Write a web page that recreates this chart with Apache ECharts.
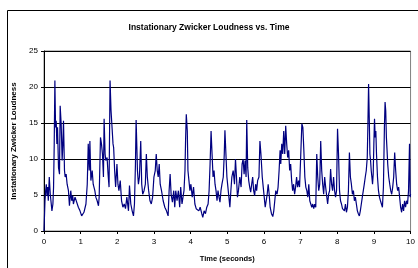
<!DOCTYPE html>
<html>
<head>
<meta charset="utf-8">
<script src="https://cdn.jsdelivr.net/npm/echarts@6/dist/echarts.min.js"></script>
<style>
html, body { margin: 0; padding: 0; background: #fff; }
#chart { width: 418px; height: 268px; }
</style>
</head>
<body>
<div id="chart"></div>
<script>
// time (s) and loudness
var times = [
	0, 0.027, 0.045, 0.063, 0.081, 0.099, 0.117, 0.144, 0.171, 0.198, 0.216, 0.243, 0.261, 0.279, 0.297,
	0.315, 0.333, 0.351, 0.369, 0.396, 0.423, 0.441, 0.468, 0.495, 0.514, 0.532, 0.559, 0.577, 0.604, 0.631,
	0.667, 0.694, 0.730, 0.757, 0.784, 0.802, 0.847, 0.892, 0.937, 0.982, 1.027, 1.054, 1.090, 1.144, 1.180,
	1.207, 1.234, 1.252, 1.279, 1.315, 1.342, 1.387, 1.414, 1.450, 1.486, 1.505, 1.541, 1.568, 1.595, 1.622,
	1.640, 1.667, 1.685, 1.721, 1.748, 1.775, 1.802, 1.829, 1.856, 1.883,
	1.900, 1.927, 1.954, 1.990, 2.017, 2.044, 2.080, 2.116, 2.152, 2.188, 2.224, 2.260, 2.305, 2.332, 2.368,
	2.405, 2.441, 2.468, 2.495, 2.513, 2.531, 2.549, 2.576, 2.603, 2.639, 2.666, 2.693, 2.729, 2.765, 2.792,
	2.819, 2.855, 2.891, 2.927, 2.963, 2.999, 3.035, 3.062, 3.089, 3.116, 3.143, 3.170, 3.206, 3.251, 3.296,
	3.341, 3.386, 3.413, 3.441, 3.468, 3.504, 3.540, 3.567, 3.594, 3.630, 3.666, 3.702, 3.729, 3.765, 3.792,
	3.819, 3.846, 3.864, 3.882, 3.909,
	3.927, 3.954, 3.981, 4.008, 4.044, 4.080, 4.116, 4.152, 4.188, 4.224, 4.260, 4.305, 4.332, 4.368, 4.405,
	4.441, 4.477, 4.504, 4.531, 4.558, 4.585, 4.612, 4.639, 4.666, 4.693, 4.720, 4.747, 4.774, 4.801, 4.828,
	4.855, 4.891, 4.918, 4.936, 4.963, 4.990, 5.017, 5.044, 5.071, 5.098, 5.125, 5.161, 5.197, 5.224, 5.251,
	5.278, 5.305, 5.341, 5.377, 5.404, 5.432, 5.459, 5.486, 5.513, 5.531, 5.558, 5.585, 5.612, 5.639, 5.666,
	5.693, 5.720, 5.747, 5.774, 5.801, 5.828, 5.864, 5.891, 5.918,
	5.954, 5.981, 6.008, 6.035, 6.062, 6.089, 6.116, 6.143, 6.170, 6.206, 6.242, 6.269, 6.296, 6.323, 6.359,
	6.386, 6.414, 6.441, 6.459, 6.486, 6.513, 6.540, 6.567, 6.594, 6.621, 6.648, 6.675, 6.702, 6.729, 6.756,
	6.783, 6.810, 6.837, 6.864, 6.891, 6.918, 6.945, 6.972, 6.999, 7.035, 7.062, 7.089, 7.116, 7.143, 7.170,
	7.197, 7.224, 7.251, 7.278, 7.305, 7.332, 7.359, 7.386, 7.414, 7.441, 7.468, 7.495, 7.522, 7.549, 7.576,
	7.603, 7.630, 7.657, 7.684, 7.711, 7.738, 7.765, 7.792, 7.819, 7.846, 7.873, 7.900,
	7.927, 7.954, 7.981, 8.008, 8.035, 8.062, 8.089, 8.116, 8.143, 8.170, 8.197, 8.224, 8.251, 8.278, 8.305,
	8.332, 8.359, 8.386, 8.414, 8.441, 8.468, 8.495, 8.522, 8.549, 8.576, 8.603, 8.630, 8.657, 8.684, 8.711,
	8.738, 8.765, 8.792, 8.819, 8.837, 8.855, 8.873, 8.891, 8.909, 8.927, 8.945, 8.963, 8.981, 8.999, 9.017,
	9.035, 9.053, 9.071, 9.098, 9.125, 9.152, 9.179, 9.206, 9.233, 9.260, 9.287, 9.305, 9.323, 9.341, 9.359,
	9.377, 9.405, 9.432, 9.459, 9.486, 9.513, 9.540, 9.567, 9.594, 9.621, 9.648, 9.675, 9.702, 9.729, 9.756,
	9.783, 9.810, 9.837, 9.864, 9.891, 9.918, 9.945, 9.972, 9.990, 10.0
];
var loudness = [
	0, 4.2, 5.6, 6.5, 4.9, 6.1, 4.2, 7.5, 5.1, 3.75, 2.8, 3.75, 6.1, 12.1, 20.9,
	14.4, 15.3, 12.1, 14.4, 8.8, 7.9, 17.4, 14.9, 9.8, 12.1, 15.3, 8.4, 7.5, 7.9, 6.5,
	5.6, 3.5, 5.6, 4.2, 4.9, 3.75, 4.7, 4.9, 3.3, 2.8, 2.1, 1.9, 2.6, 3.75, 6.5,
	12.1, 8.4, 12.5, 7.0, 8.4, 6.5, 5.6, 4.7, 4.2, 3.5, 4.7, 13.0, 12.1, 10.7, 7.5,
	15.6, 10.7, 9.8, 10.2, 7.9, 6.1, 20.9, 16.7, 14.4, 12.1,
	11.6, 8.4, 6.1, 9.3, 6.5, 5.6, 7.0, 4.2, 3.3, 3.75, 3.1, 4.7, 2.8, 6.3, 3.75,
	2.8, 2.1, 3.75, 9.3, 15.4, 12.1, 8.4, 6.5, 7.5, 12.5, 6.5, 5.1, 5.6, 6.5, 10.7,
	7.5, 5.6, 4.2, 3.75, 4.7, 7.5, 8.4, 10.7, 8.4, 7.5, 9.3, 6.5, 5.6, 4.2, 3.3,
	2.8, 2.1, 5.6, 7.9, 5.1, 4.0, 5.6, 3.3, 5.6, 4.2, 5.6, 3.3, 6.1, 3.75, 4.7,
	5.6, 8.4, 13.0, 16.2, 13.9,
	8.4, 7.0, 5.6, 6.5, 4.7, 6.1, 3.75, 3.1, 3.3, 2.8, 3.3, 2.4, 1.9, 2.8, 2.4,
	3.3, 3.75, 5.6, 9.3, 13.9, 10.7, 7.5, 8.4, 6.5, 5.6, 4.2, 5.6, 4.7, 4.0, 5.6,
	6.5, 7.5, 10.7, 14.0, 10.7, 7.5, 6.1, 4.7, 3.3, 5.6, 7.5, 8.4, 6.5, 10.0, 7.5,
	4.7, 5.6, 7.5, 6.1, 9.3, 10.0, 7.9, 9.8, 7.5, 15.4, 8.8, 7.0, 6.1, 5.4, 6.5,
	7.5, 5.6, 4.9, 6.5, 5.6, 7.0, 7.5, 12.5, 10.7,
	7.5, 6.1, 4.7, 3.3, 3.1, 5.1, 6.5, 5.1, 3.3, 2.4, 2.0, 2.8, 4.2, 5.6, 5.1,
	6.1, 8.4, 11.2, 9.3, 12.1, 10.7, 13.9, 10.7, 14.6, 12.1, 10.2, 11.2, 8.4, 9.3, 7.0,
	5.6, 6.5, 5.1, 6.1, 7.5, 6.1, 7.0, 6.1, 9.8, 14.9, 14.4, 11.2, 7.5, 6.1, 5.6,
	4.7, 6.5, 4.2, 3.75, 3.3, 3.75, 3.1, 3.75, 3.3, 10.7, 7.5, 5.6, 6.5, 12.5, 8.4,
	6.5, 5.1, 7.5, 6.1, 4.9, 3.75, 5.1, 5.6, 8.6, 6.5, 5.6, 7.5,
	5.6, 4.7, 5.6, 14.2, 10.7, 5.6, 4.2, 3.75, 3.1, 3.3, 2.8, 3.75, 2.6, 3.3, 5.6,
	10.9, 7.5, 6.5, 5.1, 5.6, 4.2, 4.7, 3.75, 2.8, 2.4, 2.1, 2.8, 3.75, 4.7, 5.6,
	6.5, 7.5, 8.4, 10.2, 14.9, 20.4, 15.8, 10.7, 9.8, 8.4, 7.5, 6.5, 7.9, 12.1, 15.6,
	13.0, 13.9, 10.7, 7.5, 5.6, 4.7, 4.2, 3.75, 3.3, 6.1, 14.4, 17.9, 16.7, 13.0, 11.2,
	9.3, 7.5, 6.5, 5.6, 5.1, 6.1, 7.5, 10.9, 8.4, 6.5, 5.6, 6.1, 4.7, 3.3, 2.6,
	3.75, 2.8, 4.2, 3.3, 4.2, 3.75, 5.6, 12.1, 4.7, 5.1
];
var yTicks = [0, 5, 10, 15, 20, 25];
var xTicks = [0, 1, 2, 3, 4, 5, 6, 7, 8, 9, 10];

var points = [];
for (var i = 0; i < times.length; i++) {
	points.push([times[i], loudness[i]]);
}

var chart = echarts.init(document.getElementById('chart'), null, { renderer: 'canvas' });
var font = 'Liberation Sans, Arial, sans-serif';
var option = {
	animation: false,
	backgroundColor: '#fff',
	title: {
		text: 'Instationary Zwicker Loudness vs. Time',
		left: 'center',
		top: 18,
		textStyle: { fontFamily: font, fontSize: 8.5, fontWeight: 'bold', color: '#000' }
	},
	graphic: [{
		type: 'rect',
		shape: { x: 7.5, y: 10.5, width: 430, height: 280 },
		style: { fill: 'none', stroke: '#000', lineWidth: 1 },
		silent: true
	}],
	grid: {
		left: 44, right: 5, top: 51, bottom: 37,
		show: true, borderColor: '#808080', borderWidth: 1, backgroundColor: '#fff'
	},
	xAxis: {
		type: 'value',
		min: xTicks[0], max: xTicks[xTicks.length - 1], interval: 1,
		name: 'Time (seconds)',
		nameLocation: 'middle',
		nameGap: 24,
		nameTextStyle: { fontFamily: font, fontSize: 7.5, fontWeight: 'bold', color: '#000' },
		axisLine: { show: true, lineStyle: { color: '#000', width: 1 } },
		axisTick: { show: true, length: 3, lineStyle: { color: '#000' } },
		axisLabel: { fontFamily: font, fontSize: 8, color: '#000', margin: 7 },
		splitLine: { show: false }
	},
	yAxis: {
		type: 'value',
		min: yTicks[0], max: yTicks[yTicks.length - 1], interval: 5,
		name: 'Instationary Zwicker Loudness',
		nameLocation: 'middle',
		nameRotate: 90,
		nameGap: 19,
		nameTextStyle: { fontFamily: font, fontSize: 8, fontWeight: 'bold', color: '#000' },
		axisLine: { show: true, lineStyle: { color: '#000', width: 1 } },
		axisTick: { show: true, length: 3, lineStyle: { color: '#000' } },
		axisLabel: { fontFamily: font, fontSize: 8, color: '#000', margin: 6 },
		splitLine: { show: true, lineStyle: { color: '#000', width: 1 } }
	},
	series: [{
		type: 'line',
		data: points,
		showSymbol: false,
		symbol: 'none',
		lineStyle: { color: '#000080', width: 1.2 },
		z: 3
	}]
};
chart.setOption(option);
</script>
</body>
</html>
